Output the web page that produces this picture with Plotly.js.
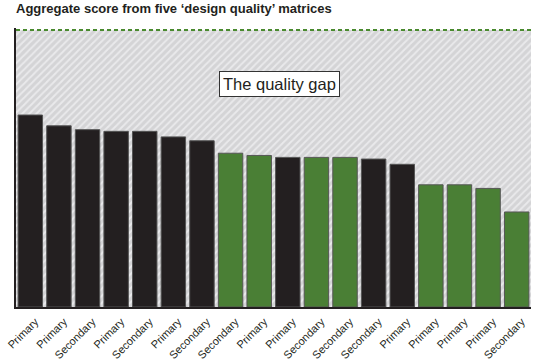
<!DOCTYPE html>
<html>
<head>
<meta charset="utf-8">
<script src="https://cdn.plot.ly/plotly-3.0.1.min.js"></script>
<style>
html,body{margin:0;padding:0;background:#fff;}
#chart{width:534px;height:363px;}
</style>
</head>
<body>
<div id="chart"></div>
<script>
// Data
const categories = ["Primary","Primary","Secondary","Primary","Secondary","Primary","Secondary","Secondary","Primary","Primary","Secondary","Secondary","Secondary","Primary","Primary","Primary","Primary","Secondary"];
const scores = [69.3,65.4,64.0,63.4,63.4,61.4,60.0,55.5,54.7,54.0,54.0,54.0,53.4,51.5,44.1,44.1,42.8,34.3];
const groups = ["b","b","b","b","b","b","b","g","g","b","g","g","b","b","g","g","g","g"];
const maxScore = 100;
const titleText = "Aggregate score from five ‘design quality’ matrices";
const gapLabel = "The quality gap";

const BLACK = "#231f20", GREEN = "#4a7f35";
const n = categories.length;
const xs = categories.map((_, i) => i);

const background = {
  type: "bar",
  x: [(n - 1) / 2],
  y: [maxScore],
  width: [n],
  marker: {
    color: "#d6d6d8",
    line: {width: 0},
    pattern: {shape: "/", bgcolor: "#d4d4d6", fgcolor: "#e9e9eb", size: 5, solidity: 0.4, fillmode: "replace"}
  },
  hoverinfo: "skip",
  showlegend: false
};

const bars = {
  type: "bar",
  x: xs,
  y: scores,
  marker: {
    color: groups.map(g => g === "g" ? GREEN : BLACK),
    line: {color: "#555555", width: 1}
  },
  showlegend: false
};

const layout = {
  width: 534,
  height: 363,
  margin: {l: 16, r: 3, t: 28, b: 56},
  paper_bgcolor: "#ffffff",
  plot_bgcolor: "#ffffff",
  barmode: "overlay",
  bargap: 0.145,
  font: {family: "Liberation Sans, Arial, sans-serif", color: BLACK},
  title: {
    text: titleText,
    font: {family: "Liberation Sans, Arial, sans-serif", size: 13, weight: "bold", color: BLACK},
    xref: "container", x: 16 / 534, xanchor: "left",
    yref: "container", y: 1 - 4 / 363, yanchor: "top"
  },
  xaxis: {
    range: [-0.5, n - 0.5],
    tickvals: xs,
    ticktext: categories,
    tickangle: -45,
    tickfont: {size: 11, color: BLACK},
    ticklabelshift: 5,
    ticklabelstandoff: 2,
    ticks: "",
    showgrid: false,
    zeroline: false,
    showline: true,
    linecolor: BLACK,
    linewidth: 2,
    fixedrange: true
  },
  yaxis: {
    range: [0, 100.7],
    showticklabels: false,
    ticks: "",
    showgrid: false,
    zeroline: false,
    showline: true,
    linecolor: BLACK,
    linewidth: 2,
    fixedrange: true
  },
  shapes: [{
    type: "line", xref: "paper", x0: 0, x1: 1, yref: "y", y0: maxScore, y1: maxScore,
    line: {color: "#4a8a2f", width: 2, dash: "4px,3px"}
  }],
  annotations: [{
    text: gapLabel,
    xref: "paper", x: 0.511, yref: "paper", y: 0.801,
    xanchor: "center", yanchor: "middle",
    showarrow: false,
    font: {size: 16.5, color: BLACK, family: "Liberation Sans, Arial, sans-serif"},
    bgcolor: "#ffffff",
    bordercolor: "#333333",
    borderwidth: 1,
    borderpad: 3
  }]
};

Plotly.newPlot("chart", [background, bars], layout, {displayModeBar: false, staticPlot: true});
</script>
</body>
</html>
